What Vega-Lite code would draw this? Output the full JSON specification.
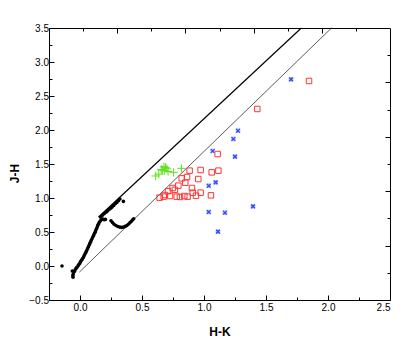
{
  "$schema": "https://vega.github.io/schema/vega-lite/v6.json",
  "width": 341,
  "height": 272,
  "autosize": "none",
  "padding": {"left": 49, "top": 28, "right": 25, "bottom": 46},
  "background": "white",
  "config": {
    "view": {"stroke": "black", "strokeWidth": 1},
    "axis": {
      "domain": false,
      "grid": false,
      "tickColor": "black",
      "tickWidth": 1,
      "labelFont": "Liberation Sans",
      "labelFontSize": 10,
      "labelColor": "black",
      "titleFont": "Liberation Sans",
      "titleFontSize": 12,
      "titleFontWeight": "bold",
      "titleColor": "black"
    }
  },
  "datasets": {
    "lines": [
      {"line": "upper", "x": 0.15, "y": 0.72},
      {"line": "upper", "x": 1.785, "y": 3.5},
      {"line": "lower", "x": -0.005, "y": -0.09},
      {"line": "lower", "x": 2.028, "y": 3.5}
    ],
    "intrinsic": [
      {"x": -0.145, "y": 0.0},
      {"x": -0.056, "y": -0.165}, {"x": -0.058, "y": -0.14}, {"x": -0.062, "y": -0.075}, {"x": -0.054, "y": -0.118},
      {"x": -0.045, "y": -0.08}, {"x": -0.04, "y": -0.06}, {"x": -0.032, "y": -0.035}, {"x": -0.025, "y": -0.02},
      {"x": -0.015, "y": 0.005}, {"x": -0.008, "y": 0.025}, {"x": 0.0, "y": 0.045}, {"x": 0.005, "y": 0.065},
      {"x": 0.012, "y": 0.085}, {"x": 0.02, "y": 0.105}, {"x": 0.027, "y": 0.125}, {"x": 0.033, "y": 0.15},
      {"x": 0.04, "y": 0.175}, {"x": 0.047, "y": 0.2}, {"x": 0.053, "y": 0.225}, {"x": 0.06, "y": 0.25},
      {"x": 0.066, "y": 0.275}, {"x": 0.072, "y": 0.3}, {"x": 0.078, "y": 0.325}, {"x": 0.084, "y": 0.35},
      {"x": 0.09, "y": 0.375}, {"x": 0.097, "y": 0.4}, {"x": 0.103, "y": 0.425}, {"x": 0.11, "y": 0.45},
      {"x": 0.117, "y": 0.48}, {"x": 0.124, "y": 0.505}, {"x": 0.13, "y": 0.535}, {"x": 0.136, "y": 0.56},
      {"x": 0.142, "y": 0.59}, {"x": 0.148, "y": 0.615}, {"x": 0.155, "y": 0.64}, {"x": 0.163, "y": 0.66},
      {"x": 0.172, "y": 0.68}, {"x": 0.185, "y": 0.69}, {"x": 0.195, "y": 0.68}, {"x": 0.205, "y": 0.685},
      {"x": 0.165, "y": 0.72}, {"x": 0.18, "y": 0.745}, {"x": 0.195, "y": 0.77}, {"x": 0.21, "y": 0.79},
      {"x": 0.222, "y": 0.81}, {"x": 0.235, "y": 0.83}, {"x": 0.248, "y": 0.85}, {"x": 0.26, "y": 0.87},
      {"x": 0.272, "y": 0.89}, {"x": 0.285, "y": 0.915}, {"x": 0.297, "y": 0.935}, {"x": 0.31, "y": 0.96},
      {"x": 0.322, "y": 0.985}, {"x": 0.35, "y": 0.95},
      {"x": 0.25, "y": 0.665}, {"x": 0.262, "y": 0.64}, {"x": 0.275, "y": 0.615}, {"x": 0.29, "y": 0.595},
      {"x": 0.305, "y": 0.58}, {"x": 0.32, "y": 0.572}, {"x": 0.335, "y": 0.568}, {"x": 0.35, "y": 0.572},
      {"x": 0.365, "y": 0.582}, {"x": 0.378, "y": 0.595}, {"x": 0.39, "y": 0.615}, {"x": 0.402, "y": 0.635},
      {"x": 0.413, "y": 0.655}, {"x": 0.423, "y": 0.675}, {"x": 0.433, "y": 0.695}
    ],
    "red": [
      {"x": 1.847, "y": 2.721}, {"x": 1.43, "y": 2.309}, {"x": 1.11, "y": 1.647}, {"x": 1.116, "y": 1.402},
      {"x": 1.062, "y": 1.377}, {"x": 0.973, "y": 1.412}, {"x": 0.884, "y": 1.402}, {"x": 0.82, "y": 1.289},
      {"x": 0.863, "y": 1.309}, {"x": 0.954, "y": 1.279}, {"x": 0.849, "y": 1.225}, {"x": 0.793, "y": 1.181},
      {"x": 0.747, "y": 1.147}, {"x": 0.903, "y": 1.147}, {"x": 0.71, "y": 1.1}, {"x": 0.642, "y": 1.005},
      {"x": 0.685, "y": 1.044}, {"x": 0.726, "y": 1.029}, {"x": 0.78, "y": 1.02}, {"x": 0.806, "y": 1.015},
      {"x": 0.841, "y": 1.029}, {"x": 0.868, "y": 1.02}, {"x": 0.909, "y": 1.078}, {"x": 0.935, "y": 1.034},
      {"x": 0.973, "y": 1.078}, {"x": 1.056, "y": 1.039}, {"x": 0.675, "y": 1.02}, {"x": 0.765, "y": 1.12}
    ],
    "green": [
      {"x": 0.61, "y": 1.324}, {"x": 0.635, "y": 1.35}, {"x": 0.664, "y": 1.41}, {"x": 0.677, "y": 1.46},
      {"x": 0.69, "y": 1.45}, {"x": 0.7, "y": 1.43}, {"x": 0.71, "y": 1.39}, {"x": 0.68, "y": 1.4},
      {"x": 0.755, "y": 1.377}, {"x": 0.818, "y": 1.436}, {"x": 0.655, "y": 1.42}
    ],
    "blue": [
      {"x": 1.702, "y": 2.745}, {"x": 1.274, "y": 1.99}, {"x": 1.237, "y": 1.868}, {"x": 1.25, "y": 1.608},
      {"x": 1.07, "y": 1.691}, {"x": 1.038, "y": 1.181}, {"x": 1.094, "y": 1.23}, {"x": 1.038, "y": 0.794},
      {"x": 1.169, "y": 0.784}, {"x": 1.395, "y": 0.877}, {"x": 1.113, "y": 0.505}
    ]
  },
  "layer": [
    {
      "data": {"name": "lines"},
      "transform": [{"filter": "datum.line == 'upper'"}],
      "mark": {"type": "line", "color": "black", "strokeWidth": 1.2},
      "encoding": {
        "x": {"field": "x", "type": "quantitative", "scale": {"domain": [-0.25, 2.5], "nice": false, "zero": false},
          "axis": {"orient": "bottom", "values": [0, 0.5, 1, 1.5, 2, 2.5], "format": ".1f", "tickSize": -5,
            "labelPadding": 15, "labelBaseline": "alphabetic", "title": "H-K",
            "titleBaseline": "alphabetic", "titleY": 35, "titleX": 170.5}},
        "y": {"field": "y", "type": "quantitative", "scale": {"domain": [-0.5, 3.5], "nice": false, "zero": false},
          "axis": {"orient": "left", "values": [-0.5, 0, 0.5, 1, 1.5, 2, 2.5, 3, 3.5], "format": ".1f", "tickSize": -5,
            "labelPadding": 5.5, "title": "J-H", "titleBaseline": "alphabetic", "titleX": -30.5, "titleY": 145, "titleAngle": -90}}
      }
    },
    {
      "data": {"name": "lines"},
      "transform": [{"filter": "datum.line == 'lower'"}],
      "mark": {"type": "line", "color": "#333333", "strokeWidth": 0.8},
      "encoding": {
        "x": {"field": "x", "type": "quantitative", "scale": {"domain": [-0.25, 2.5], "nice": false, "zero": false},
          "axis": {"orient": "bottom", "values": [-0.25, 0.25, 0.75, 1.25, 1.75, 2.25], "tickSize": -3, "labels": false, "title": null}},
        "y": {"field": "y", "type": "quantitative", "scale": {"domain": [-0.5, 3.5], "nice": false, "zero": false},
          "axis": {"orient": "left", "values": [-0.25, 0.25, 0.75, 1.25, 1.75, 2.25, 2.75, 3.25], "tickSize": -3, "labels": false, "title": null}}
      }
    },
    {
      "data": {"name": "intrinsic"},
      "mark": {"type": "point", "shape": "circle", "filled": true, "color": "black", "size": 13, "opacity": 1},
      "encoding": {
        "x": {"field": "x", "type": "quantitative", "scale": {"domain": [-0.25, 2.5], "nice": false, "zero": false},
          "axis": {"orient": "top", "values": [0.3, 0.85, 1.4, 1.95], "tickSize": -5, "labels": false, "title": null}},
        "y": {"field": "y", "type": "quantitative", "scale": {"domain": [-0.5, 3.5], "nice": false, "zero": false},
          "axis": {"orient": "right", "values": [2.7, 1.9, 1.1, 0.3], "tickSize": -5, "labels": false, "title": null}}
      }
    },
    {
      "data": {"name": "red"},
      "mark": {"type": "point", "shape": "square", "filled": false, "color": "#ff3535", "size": 30, "strokeWidth": 1, "opacity": 1},
      "encoding": {
        "x": {"field": "x", "type": "quantitative", "scale": {"domain": [-0.25, 2.5], "nice": false, "zero": false},
          "axis": {"orient": "top", "values": [0.025, 0.575, 1.125, 1.675, 2.225], "tickSize": -3, "labels": false, "title": null}},
        "y": {"field": "y", "type": "quantitative", "scale": {"domain": [-0.5, 3.5], "nice": false, "zero": false},
          "axis": {"orient": "right", "values": [3.1, 2.3, 1.5, 0.7, -0.1], "tickSize": -3, "labels": false, "title": null}}
      }
    },
    {
      "data": {"name": "green"},
      "mark": {"type": "point", "shape": "M-1,0L1,0M0,-1L0,1", "filled": false, "color": "#5fe021", "size": 70, "strokeWidth": 1, "opacity": 1},
      "encoding": {
        "x": {"field": "x", "type": "quantitative", "scale": {"domain": [-0.25, 2.5], "nice": false, "zero": false}, "axis": null},
        "y": {"field": "y", "type": "quantitative", "scale": {"domain": [-0.5, 3.5], "nice": false, "zero": false}, "axis": null}
      }
    },
    {
      "data": {"name": "blue"},
      "mark": {"type": "point", "shape": "square", "filled": true, "color": "#b8c4ff", "size": 22, "opacity": 1},
      "encoding": {
        "x": {"field": "x", "type": "quantitative", "scale": {"domain": [-0.25, 2.5], "nice": false, "zero": false}, "axis": null},
        "y": {"field": "y", "type": "quantitative", "scale": {"domain": [-0.5, 3.5], "nice": false, "zero": false}, "axis": null}
      }
    },
    {
      "data": {"name": "blue"},
      "mark": {"type": "point", "shape": "M-1,-1L1,1M-1,1L1,-1", "filled": false, "color": "#2a44ff", "size": 14, "strokeWidth": 1.2, "opacity": 1},
      "encoding": {
        "x": {"field": "x", "type": "quantitative", "scale": {"domain": [-0.25, 2.5], "nice": false, "zero": false}, "axis": null},
        "y": {"field": "y", "type": "quantitative", "scale": {"domain": [-0.5, 3.5], "nice": false, "zero": false}, "axis": null}
      }
    }
  ],
  "resolve": {"axis": {"x": "independent", "y": "independent"}}
}
